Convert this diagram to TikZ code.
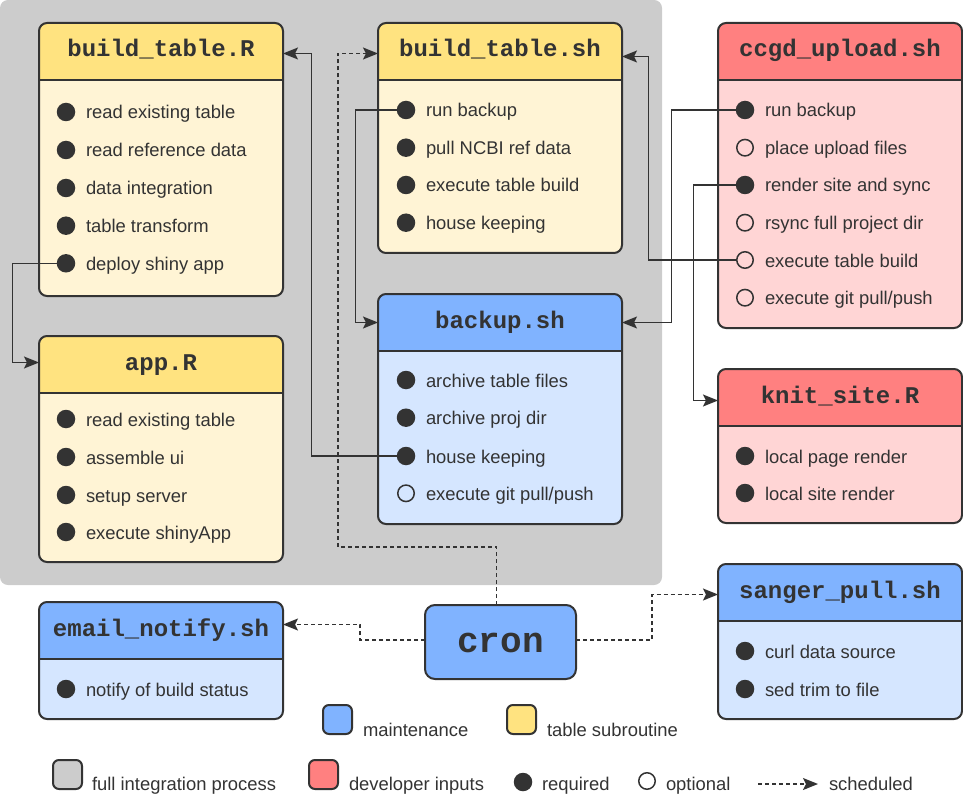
\documentclass[tikz,border=0pt]{standalone}
\usepackage{fontspec}
\setmainfont{Liberation Sans}
\setmonofont{Liberation Mono}
\usetikzlibrary{arrows.meta,calc}
\definecolor{ink}{HTML}{333333}
\definecolor{bgGray}{HTML}{CCCCCC}
\definecolor{yH}{HTML}{FFE380}
\definecolor{yB}{HTML}{FFF4D5}
\definecolor{bH}{HTML}{80B3FF}
\definecolor{bB}{HTML}{D5E6FF}
\definecolor{rH}{HTML}{FF8080}
\definecolor{rB}{HTML}{FFD5D5}
\tikzset{
 boxshape/.style={draw=ink, line width=2pt, rounded corners=8pt, inner sep=0pt, outer sep=0pt},
 hdr/.style={inner sep=0pt, outer sep=0pt, text=ink, font=\ttfamily\bfseries\fontsize{24}{24}\selectfont, text height=12pt, text depth=1pt},
 req/.style={circle, fill=ink, minimum size=18.5pt, inner sep=0pt, outer sep=0pt},
 opt/.style={circle, draw=ink, line width=1.5pt, minimum size=16.5pt, inner sep=0pt, outer sep=0pt},
 itemtext/.style={text=ink, inner sep=0pt, outer sep=0pt, anchor=base west, font=\fontsize{18.4}{22}\selectfont},
 conn/.style={draw=ink, line width=1.4pt, -{Stealth[length=15pt,width=12pt,inset=3pt]}},
 sched/.style={conn, dash pattern=on 4pt off 3pt},
 legsq/.style={draw=ink, line width=2pt, rounded corners=6pt, minimum size=29pt, inner sep=0pt},
}
\newcommand\mkbox[8]{%
 \node[boxshape, fill=#7, minimum width={(#4-#2)*1pt}, minimum height={(#5-#3)*1pt},
   path picture={\fill[#6, sharp corners] (path picture bounding box.north west) rectangle ([yshift=-57pt]path picture bounding box.north east);
     \draw[ink, line width=2pt, sharp corners] ([yshift=-57pt]path picture bounding box.north west) -- ([yshift=-57pt]path picture bounding box.north east);}]
   (#1) at ({(#2+#4)/2},{(#3+#5)/2}) {};
 \node[hdr, minimum width={(#4-#2)*1pt}, minimum height=57pt] (#1h) at ({(#2+#4)/2},{#3+28.5}) {#8};
}
\newcommand\itm[5]{%
 \node[#2] (#1) at (#3,#4) {};
 \node[itemtext] (#1t) at ({#3+20},{#4+7}) {#5};
}
\begin{document}
\begin{tikzpicture}[x=1pt,y=-1pt]
\useasboundingbox (0,0) rectangle (963,794);
\node[fill=bgGray, rounded corners=8pt, minimum width=662pt, minimum height=585pt, inner sep=0pt, outer sep=0pt, anchor=north west] (fullbg) at (0,0) {};

% boxes
\mkbox{btR}{39}{23}{283}{296}{yH}{yB}{build\_table.R}
\itm{btR1}{req}{66}{112}{read existing table}
\itm{btR2}{req}{66}{150}{read reference data}
\itm{btR3}{req}{66}{188}{data integration}
\itm{btR4}{req}{66}{225.7}{table transform}
\itm{btR5}{req}{66}{263.3}{deploy shiny app}

\mkbox{bts}{378}{23}{622}{253}{yH}{yB}{build\_table.sh}
\itm{bts1}{req}{406}{110}{run backup}
\itm{bts2}{req}{406}{147.7}{pull NCBI ref data}
\itm{bts3}{req}{406}{185}{execute table build}
\itm{bts4}{req}{406}{222.7}{house keeping}

\mkbox{cg}{718}{23}{962}{328}{rH}{rB}{ccgd\_upload.sh}
\itm{cg1}{req}{745}{110}{run backup}
\itm{cg2}{opt}{745}{147.7}{place upload files}
\itm{cg3}{req}{745}{185}{render site and sync}
\itm{cg4}{opt}{745}{222.7}{rsync full project dir}
\itm{cg5}{opt}{745}{260}{execute table build}
\itm{cg6}{opt}{745}{297.7}{execute git pull/push}

\mkbox{kn}{718}{369}{962}{523}{rH}{rB}{knit\_site.R}
\itm{kn1}{req}{745}{456}{local page render}
\itm{kn2}{req}{745}{493}{local site render}

\mkbox{bk}{378}{294}{622}{524}{bH}{bB}{backup.sh}
\itm{bk1}{req}{406}{380}{archive table files}
\itm{bk2}{req}{406}{417.7}{archive proj dir}
\itm{bk3}{req}{406}{456}{house keeping}
\itm{bk4}{opt}{406}{493.3}{execute git pull/push}

\mkbox{ap}{39}{336}{283}{562}{yH}{yB}{app.R}
\itm{ap1}{req}{66}{419}{read existing table}
\itm{ap2}{req}{66}{457}{assemble ui}
\itm{ap3}{req}{66}{495}{setup server}
\itm{ap4}{req}{66}{532}{execute shinyApp}

\mkbox{em}{39}{602}{283}{719}{bH}{bB}{email\_notify.sh}
\itm{em1}{req}{66}{689}{notify of build status}

\mkbox{sg}{718}{564}{962}{719}{bH}{bB}{sanger\_pull.sh}
\itm{sg1}{req}{745}{651}{curl data source}
\itm{sg2}{req}{745}{689}{sed trim to file}

\node[boxshape, rounded corners=10pt, fill=bH, minimum width=151pt, minimum height=74pt, font=\ttfamily\bfseries\fontsize{36}{36}\selectfont, text=ink, text height=20pt, text depth=0pt] (cron) at (500.5,642) {cron};

% connectors
\draw[conn] (btR5.west) -- ++(-44,0) |- ([yshift=2pt]aph.west);
\draw[conn] (bk3.west) -- ++(-85,0) |- ([yshift=-2pt]btRh.east);
\draw[conn] (bts1.west) -- ++(-41,0) |- (bkh.west);
\draw[conn] (cg1.west) -- ++(-64,0) |- (bkh.east);
\draw[conn] (cg5.west) -- ++(-88,0) |- ([yshift=-5pt]btsh.east);
\draw[conn] (cg3.west) -- ++(-42,0) |- ([yshift=-3pt]knh.west);
\coordinate (schedTurn) at (338,547);
\draw[sched] ([xshift=-4pt]cron.north) |- (schedTurn) |- ([yshift=-2pt]btsh.west);
\draw[sched] ([yshift=2pt]cron.west) -- ++(-65,0) |- ([yshift=6pt]emh.east);
\draw[sched] ([yshift=2pt]cron.east) -- ++(76,0) |- ([yshift=-2pt]sgh.west);

% legend
\node[legsq, fill=bH] (lgMaint) at (337.5,719.5) {};
\node[itemtext] (lgMaintT) at (363,736.5) {maintenance};
\node[legsq, fill=yH] (lgTab) at (521.5,719.5) {};
\node[itemtext] (lgTabT) at (547,736.5) {table subroutine};
\node[legsq, fill=bgGray] (lgFull) at (67.5,774.5) {};
\node[itemtext] (lgFullT) at (92,790) {full integration process};
\node[legsq, fill=rH] (lgDev) at (323.5,774.5) {};
\node[itemtext] (lgDevT) at (349,790) {developer inputs};
\node[req] (lgReq) at (523,782) {};
\node[itemtext] (lgReqT) at (542,790) {required};
\node[opt] (lgOpt) at (647,781) {};
\node[itemtext] (lgOptT) at (666,790) {optional};
\coordinate (lgS1) at (758,784);
\coordinate (lgS2) at (818,784);
\draw[sched] (lgS1) -- (lgS2);
\node[itemtext] (lgSchedT) at (829,790) {scheduled};
\end{tikzpicture}
\end{document}
